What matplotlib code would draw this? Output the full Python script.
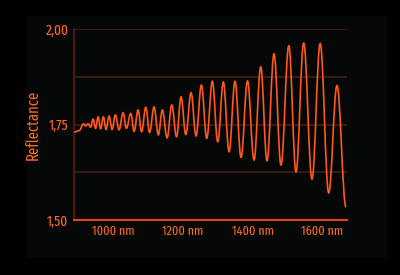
import matplotlib
matplotlib.use("Agg")
import matplotlib.pyplot as plt
from matplotlib.path import Path
from matplotlib.patches import PathPatch, Rectangle

# fringe extrema (wavelength in nm, reflectance)
wavelength = [886.3, 900.7, 913.7, 919.4, 926.6, 933.8, 941.0, 948.2, 955.4, 962.6,
              970.6, 978.4, 987.1, 995.7, 1005.2, 1015.8, 1027.3, 1036.8, 1049.5, 1059.0,
              1070.5, 1080.6, 1092.7, 1103.6, 1116.5, 1128.9, 1140.4, 1154.0, 1167.5, 1181.3,
              1194.2, 1207.8, 1223.0, 1237.4, 1252.7, 1268.2, 1284.3, 1299.9, 1316.0, 1332.4,
              1349.6, 1366.9, 1385.6, 1404.3, 1423.6, 1441.7, 1461.9, 1482.0, 1504.5, 1525.2,
              1547.3, 1571.2, 1594.8, 1619.3, 1643.2, 1669.1]
reflectance = [1.730, 1.734, 1.752, 1.746, 1.752, 1.743, 1.764, 1.740, 1.770, 1.739,
               1.770, 1.737, 1.772, 1.737, 1.775, 1.736, 1.781, 1.740, 1.779, 1.732,
               1.788, 1.731, 1.795, 1.729, 1.796, 1.723, 1.788, 1.715, 1.801, 1.718,
               1.822, 1.724, 1.833, 1.720, 1.853, 1.714, 1.863, 1.705, 1.861, 1.679,
               1.863, 1.664, 1.864, 1.657, 1.901, 1.655, 1.935, 1.644, 1.956, 1.626,
               1.963, 1.607, 1.962, 1.571, 1.852, 1.534]

x_ticks = [1000, 1200, 1400, 1600]
x_labels = ["1000 nm", "1200 nm", "1400 nm", "1600 nm"]
y_ticks = [1.50, 1.75, 2.00]
y_labels = ["1,50", "1,75", "2,00"]
grid_levels = [1.625, 1.75, 1.875, 2.00]

orange = "#ff581a"
font = dict(family=["Fira Sans Extra Condensed", "DejaVu Sans"], color="#ff6a22")

fig = plt.figure(figsize=(4, 2.75), dpi=100, facecolor="black")
fig.patches.append(Rectangle((27 / 400, 1 - 258 / 275), 360 / 400, 242 / 275,
                             transform=fig.transFigure, facecolor="#060808",
                             edgecolor="none", zorder=-5))
ax = fig.add_axes([74 / 400, 1 - 220 / 275, 273 / 400, 191 / 275])
ax.set_facecolor("none")

for lvl in grid_levels:
    ax.axhline(lvl, color="#3e1a14", lw=1.3, zorder=1)

# smooth the curve between extrema with bezier segments (flat at each extremum)
verts = [(wavelength[0], reflectance[0])]
codes = [Path.MOVETO]
for i in range(1, len(wavelength)):
    x0, y0 = wavelength[i - 1], reflectance[i - 1]
    x1, y1 = wavelength[i], reflectance[i]
    d = (x1 - x0) * 0.38
    verts += [(x0 + d, y0), (x1 - d, y1), (x1, y1)]
    codes += [Path.CURVE4] * 3
ax.add_patch(PathPatch(Path(verts, codes), fill=False, edgecolor=orange,
                       lw=1.2, zorder=3))

ax.set_xlim(886, 1672)
ax.set_ylim(1.50, 2.00)
ax.set_xticks(x_ticks)
ax.set_xticklabels(x_labels, fontsize=9.5, **font)
ax.set_yticks(y_ticks)
ax.set_yticklabels(y_labels, fontsize=10.5, **font)
ax.tick_params(length=0, pad=4)
ax.set_ylabel("Reflectance", fontsize=11.5, **font)
ax.yaxis.set_label_coords(-0.12, 0.5)

for side in ["top", "right"]:
    ax.spines[side].set_visible(False)
ax.spines["left"].set_color("#5a1c10")
ax.spines["left"].set_linewidth(1.2)
ax.spines["bottom"].set_color("#e8401a")
ax.spines["bottom"].set_linewidth(1.5)
ax.spines["bottom"].set_zorder(4)

fig.savefig("out.png", dpi=100, facecolor="black")
